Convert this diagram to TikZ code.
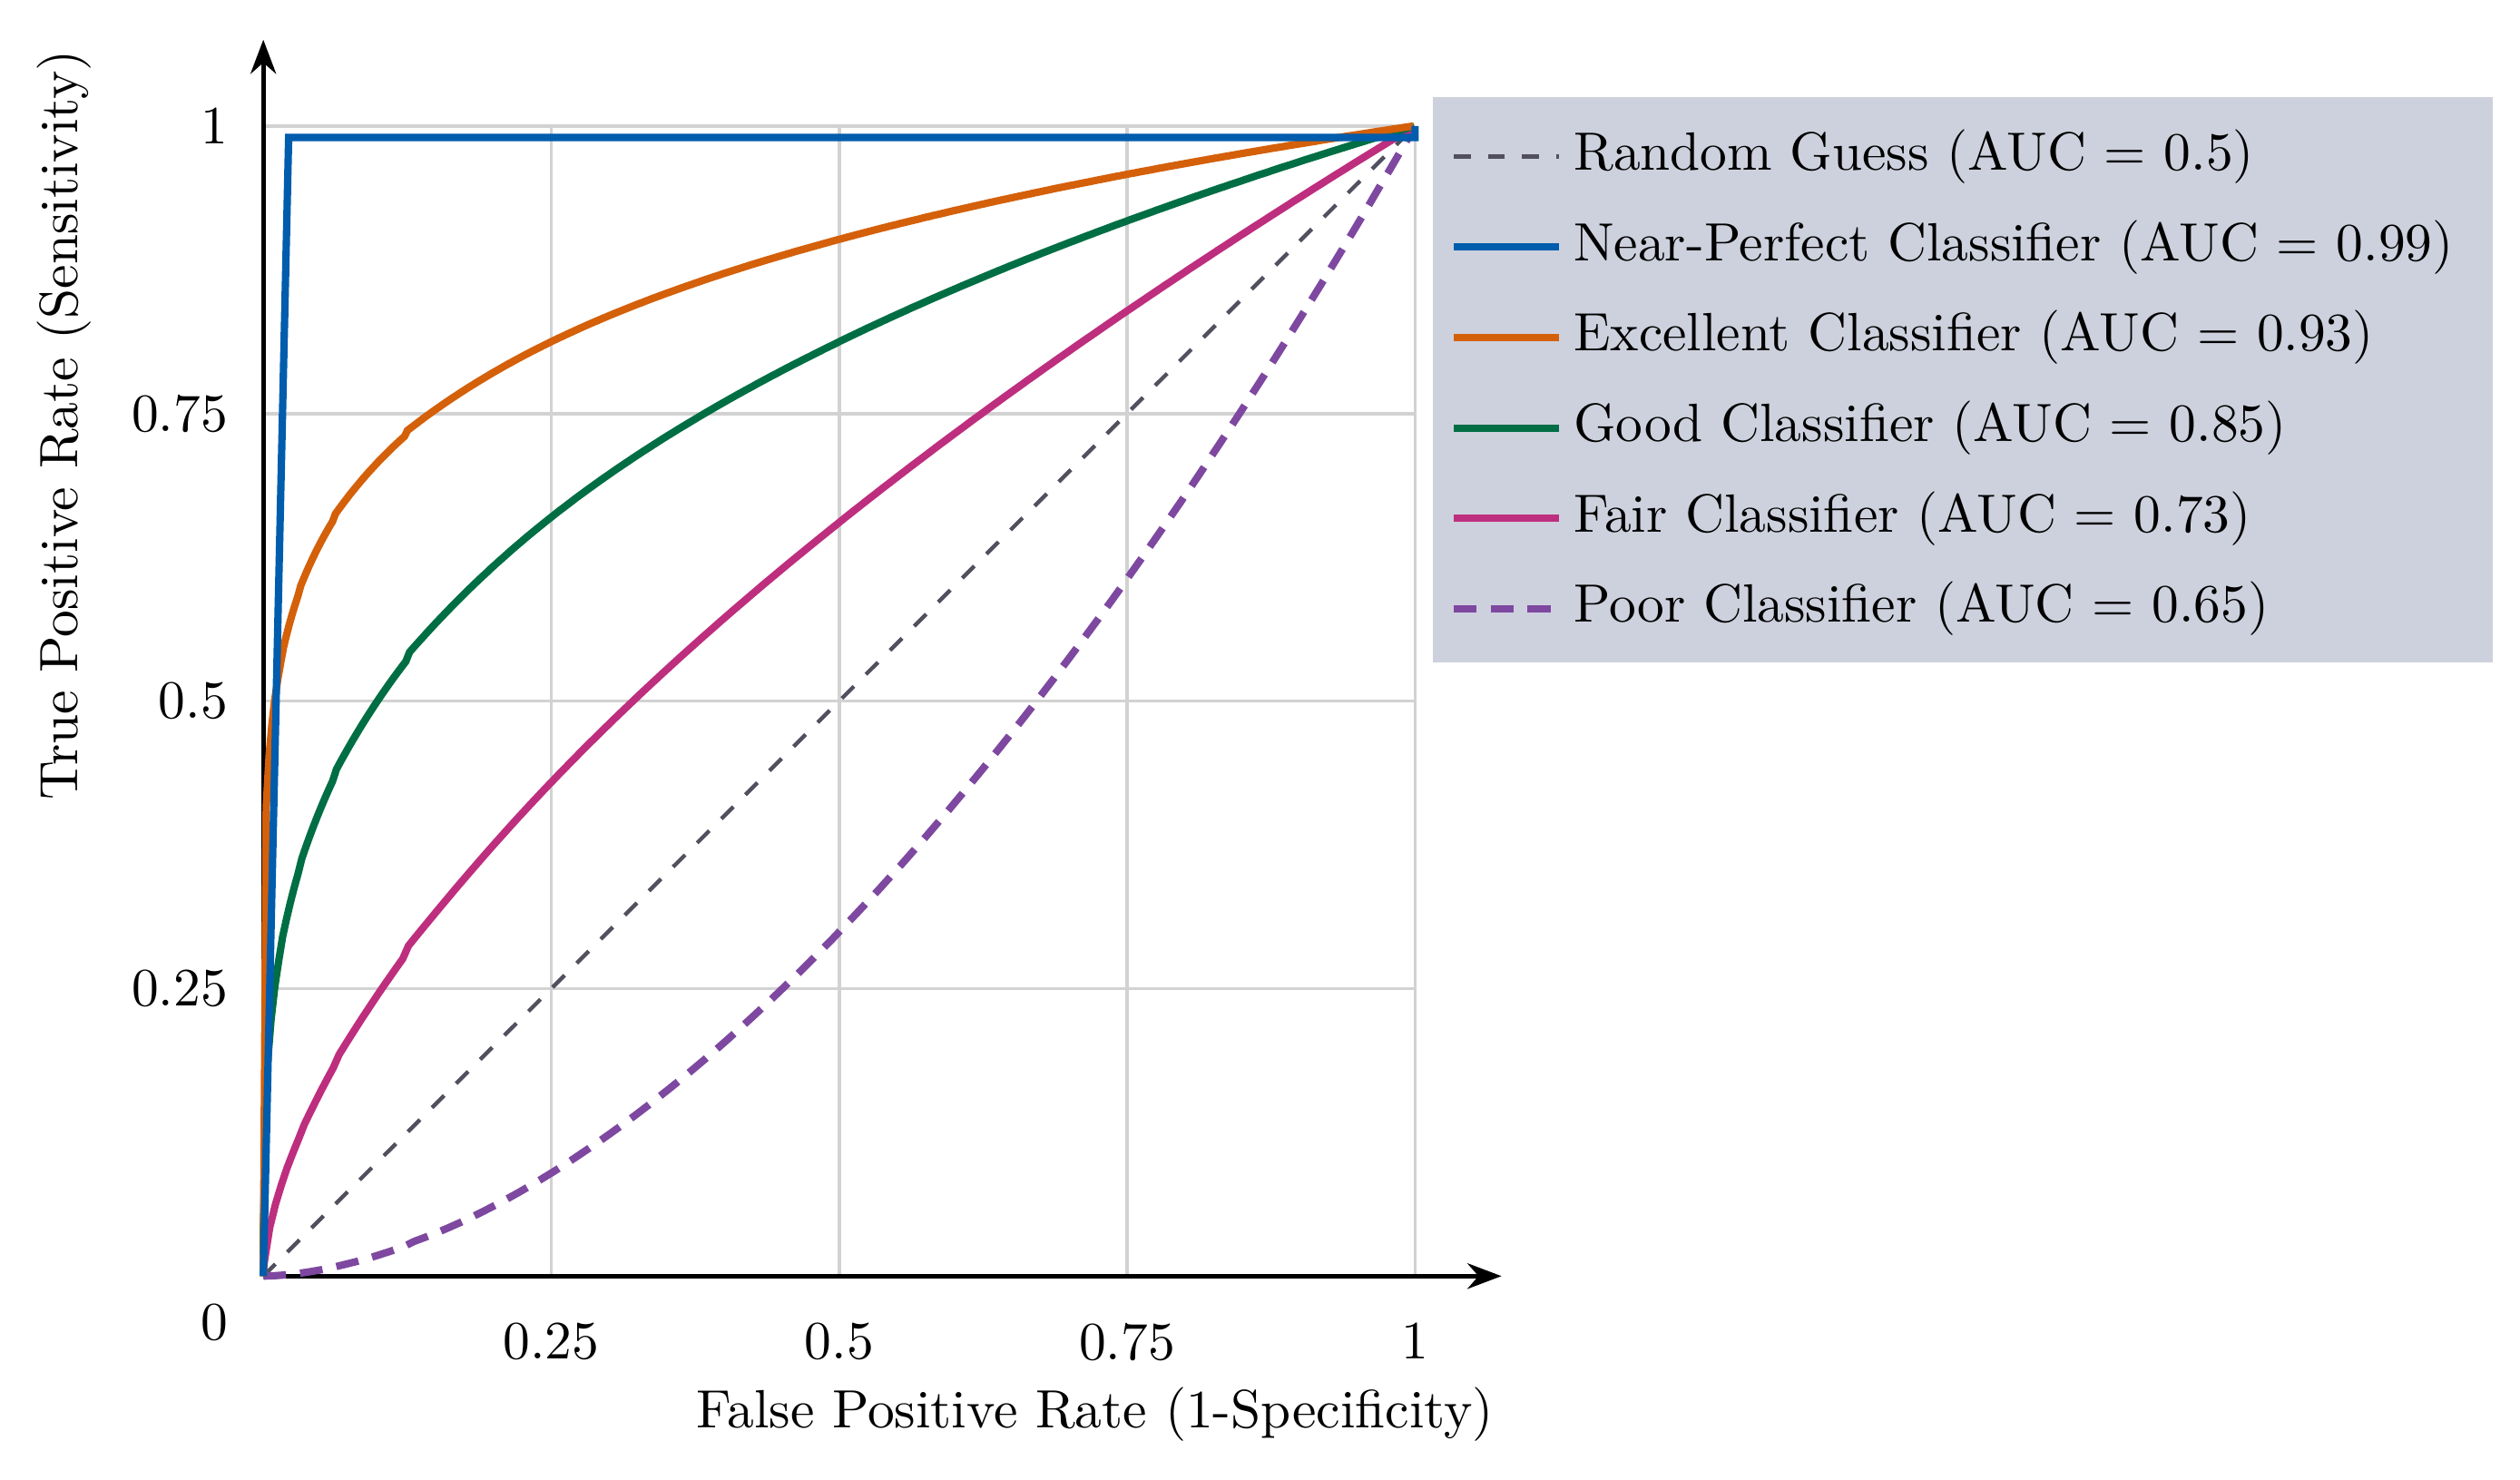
\documentclass[tikz,border=0pt]{standalone}
\usetikzlibrary{arrows.meta, calc, positioning}
\definecolor{legbg}{RGB}{205,209,221}
\definecolor{cperfect}{RGB}{0,92,172}
\definecolor{cexcel}{RGB}{212,96,10}
\definecolor{cgood}{RGB}{0,110,68}
\definecolor{cfair}{RGB}{190,46,126}
\definecolor{cpoor}{RGB}{126,72,160}
\definecolor{crand}{RGB}{80,80,95}
\tikzset{
  curve/.style={line width=1.3pt},
  randline/.style={crand, dashed, line width=0.7pt},
  poorline/.style={curve, cpoor, dash pattern=on 4pt off 2.5pt},
  gridline/.style={gray!35, line width=0.6pt},
  lab/.style={font=\fontsize{9.5}{11}\selectfont, inner sep=1pt}
}
\begin{document}
\begin{tikzpicture}[x=1cm, y=1cm]
    \useasboundingbox (0,0) rectangle (15.6,9.16);
    % origin of the plot
    \begin{scope}[shift={(1.63,1.26)}, x=7.13cm, y=7.12cm]
    % Grid
    \foreach \t in {0.25,0.5,0.75,1} {
        \draw[gridline] (\t,0) -- (\t,1);
        \draw[gridline] (0,\t) -- (1,\t);
    }
    % Axes
    \draw[-{Stealth[length=6pt]}, line width=0.8pt] (0,0) -- (1.075,0);
    \draw[-{Stealth[length=6pt]}, line width=0.8pt] (0,0) -- (0,1.075);
    % Tick labels
    \foreach \t in {0.25,0.5,0.75,1} {
        \node[lab, anchor=north] at (\t,-0.035) {\t};
        \node[lab, anchor=east] at (-0.025,\t) {\t};
    }
    \node[lab, anchor=east] at (-0.025,-0.04) {0};
    % Axis titles
    \node[lab] (xlab) at (0.722,-0.12) {False Positive Rate (1-Specificity)};
    \node[lab, rotate=90] (ylab) at (-0.173,0.74) {True Positive Rate (Sensitivity)};
    % Curves
    \draw[randline] (0,0) -- (1,1);
    \draw[poorline] plot[domain=0:1, samples=100] (\x,{\x^1.74});
    \draw[curve, cfair] (0,0) -- plot[domain=0.0005:1, samples=200] (\x,{\x^0.61});
    \draw[curve, cgood] (0,0) -- plot[domain=0.00001:1, samples=300] (\x,{\x^0.3});
    \draw[curve, cexcel] (0,0) -- plot[domain=0.0000001:1, samples=400] (\x,{\x^0.15});
    \draw[curve, cperfect] (0,0) -- (0.022,0.99) -- (1,0.99) -- (1,1);
    \end{scope}
    % Legend
    \fill[legbg] (8.87,5.06) rectangle (15.43,8.56);
    \foreach \n/\s/\txt [count=\i] in {
        rand/randline/{Random Guess (AUC = 0.5)},
        perfect/{curve,cperfect}/{Near-Perfect Classifier (AUC = 0.99)},
        excel/{curve,cexcel}/{Excellent Classifier (AUC = 0.93)},
        good/{curve,cgood}/{Good Classifier (AUC = 0.85)},
        fair/{curve,cfair}/{Fair Classifier (AUC = 0.73)},
        poor/poorline/{Poor Classifier (AUC = 0.65)}} {
        \coordinate (s\n) at (9.0,{9.16-0.97-0.56*(\i-1)});
        \coordinate (e\n) at (9.65,{9.16-0.97-0.56*(\i-1)});
        \expandafter\draw\expandafter[\s] (s\n) -- (e\n);
        \node[lab, anchor=west] (l\n) at ($(e\n)+(0.05,0)$) {\txt};
    }
\end{tikzpicture}
\end{document}
